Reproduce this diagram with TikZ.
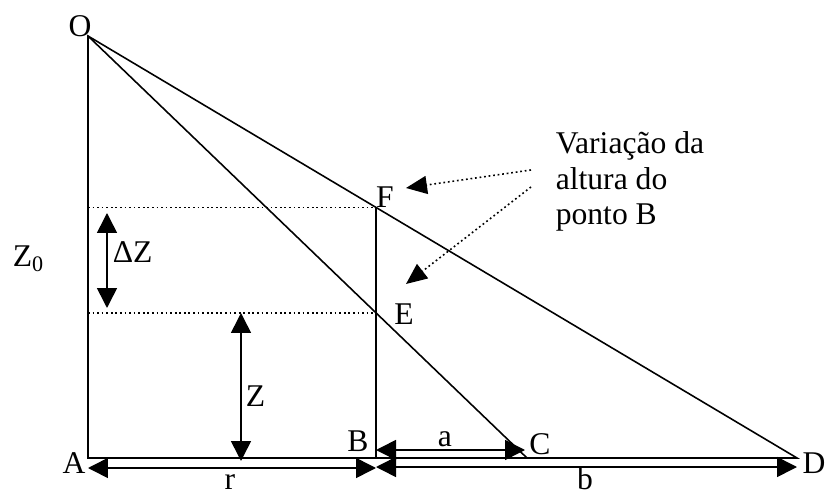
\documentclass[tikz,border=0pt]{standalone}
\usepackage{fontspec}
\setmainfont{Liberation Serif}
\usetikzlibrary{arrows.meta}

\begin{document}
\begin{tikzpicture}[x=0.02cm,y=-0.02cm,line width=0.9pt,
  seta/.style={{Triangle[length=0.4cm,width=0.4cm]}-{Triangle[length=0.4cm,width=0.4cm]}},
  indica/.style={-{Triangle[length=0.42cm,width=0.36cm]},dash pattern=on 1pt off 1.6pt},
  pontos/.style={dash pattern=on 1pt off 1.6pt,line width=0.8pt},
  rotulo/.style={anchor=base,inner sep=0pt,font=\fontsize{18}{20.4}\selectfont}]
  \useasboundingbox (0,0) rectangle (825,493);
  \coordinate (O) at (88,36);
  \coordinate (A) at (88,458);
  \coordinate (B) at (376,458);
  \coordinate (C) at (527,458);
  \coordinate (D) at (797,458);
  \coordinate (E) at (376,312.8);
  \coordinate (F) at (376,207.4);
  \draw (O)--(A)--(D)--cycle;
  \draw (O)--(C);
  \draw (B)--(F);
  \draw [pontos](A |- F)--(F);
  \draw [pontos](A |- E)--(E);
  \coordinate (dz1) at (107,213);
  \coordinate (dz2) at (107,308);
  \draw [seta](dz1)--(dz2);
  \coordinate (z1) at (241,313);
  \coordinate (z2) at (241,461);
  \draw [seta](z1)--(z2);
  \coordinate (r1) at (88,468);
  \coordinate (r2) at (376,468);
  \draw [seta](r1)--(r2);
  \coordinate (b1) at (376,467);
  \coordinate (b2) at (797,467);
  \draw [seta](b1)--(b2);
  \coordinate (a1) at (376,450);
  \coordinate (a2) at (525,450);
  \draw [seta](a1)--(a2);
  \node[rotulo] (lO) at (80,37) {O};
  \node[rotulo] (lA) at (74,473) {A};
  \node[rotulo] (lB) at (358,451) {B};
  \node[rotulo] (lC) at (540,454) {C};
  \node[rotulo] (lD) at (814,473) {D};
  \node[rotulo] (lE) at (404,324) {E};
  \node[rotulo] (lF) at (385,208) {F};
  \node[rotulo,anchor=base west] (lZ0) at (12,267) {Z\textsubscript{0}};
  \node[rotulo,anchor=base west] (ldZ) at (112,263) {ΔZ};
  \node[rotulo,anchor=base west] (lZ) at (245,406) {Z};
  \node[rotulo] (lr) at (230,489) {r};
  \node[rotulo] (lb) at (585,489) {b};
  \node[rotulo] (la) at (445,446) {a};
  \node[rotulo,anchor=base west,align=left] (nota) at (555,225) {Variação da\\altura do\\ponto B};
  \coordinate (n1) at (531,170);
  \coordinate (n2) at (531,187);
  \draw [indica](n1)--(406,188);
  \draw [indica](n2)--(406,284);
\end{tikzpicture}
\end{document}
